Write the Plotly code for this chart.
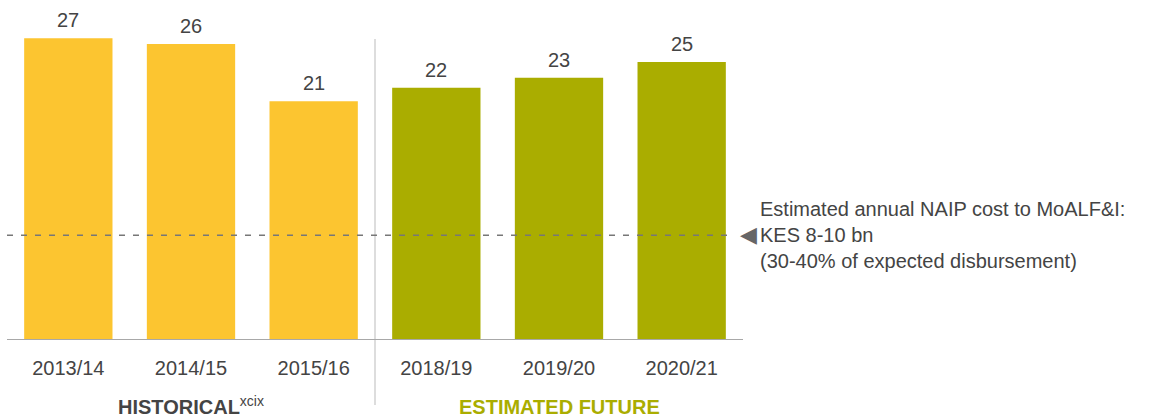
import plotly.graph_objects as go

# Data
periods = ["2013/14", "2014/15", "2015/16", "2018/19", "2019/20", "2020/21"]
values = [26.8, 26.3, 21.2, 22.4, 23.3, 24.7]
value_labels = ["27", "26", "21", "22", "23", "25"]
groups = ["HISTORICAL", "HISTORICAL", "HISTORICAL", "ESTIMATED FUTURE", "ESTIMATED FUTURE", "ESTIMATED FUTURE"]
naip_cost_level = 9.3
annotation_lines = ["Estimated annual NAIP cost to MoALF&I:", "KES 8-10 bn", "(30-40% of expected disbursement)"]

YELLOW = "#FCC530"
GREEN = "#AAAD00"
TEXT = "#444444"
FONT = "Liberation Sans, Arial, sans-serif"

colors = [YELLOW if g == "HISTORICAL" else GREEN for g in groups]
xpos = list(range(len(periods)))

fig = go.Figure()
fig.add_trace(go.Bar(
    x=xpos, y=values, marker=dict(color=colors, line=dict(width=0)),
    width=0.72, hoverinfo="skip", showlegend=False,
))

annotations = []
for x, v, lab in zip(xpos, values, value_labels):
    annotations.append(dict(x=x, y=v, text=lab, showarrow=False, yanchor="bottom",
                            yshift=5, font=dict(size=20, color=TEXT, family=FONT)))

# Group labels
annotations.append(dict(x=1, y=0, yref="y", text="<b>HISTORICAL</b><sup>xcix</sup>", showarrow=False,
                        yanchor="middle", yshift=-65, font=dict(size=20, color=TEXT, family=FONT)))
annotations.append(dict(x=4, y=0, yref="y", text="<b>ESTIMATED FUTURE</b>", showarrow=False,
                        yanchor="middle", yshift=-67, font=dict(size=20, color=GREEN, family=FONT)))

# Arrow marker pointing at the dashed line
annotations.append(dict(x=1.0, xref="paper", xshift=-5, y=naip_cost_level, yref="y", yshift=1,
                        text="◀", showarrow=False, xanchor="left", yanchor="middle",
                        font=dict(size=22, color="#666666", family="DejaVu Sans")))

# Side annotation
annotations.append(dict(x=1.0, xref="paper", xshift=15, y=naip_cost_level, yref="y", yshift=0,
                        text="<br>".join(annotation_lines), showarrow=False, xanchor="left",
                        yanchor="middle", align="left",
                        font=dict(size=20, color=TEXT, family=FONT)))

shapes = [
    # axis baseline
    dict(type="line", xref="x", yref="y", x0=-0.5, x1=5.5, y0=0, y1=0,
         line=dict(color="#A8A8A8", width=2)),
    # separator
    dict(type="line", xref="x", yref="paper", x0=2.5, x1=2.5, y0=-0.191, y1=0.885,
         line=dict(color="#DDDDDD", width=2), layer="below"),
    # dashed cost line
    dict(type="line", xref="x", yref="y", x0=-0.5, x1=5.43, y0=naip_cost_level, y1=naip_cost_level,
         line=dict(color="#777777", width=1.5, dash="6px,8px"), layer="above"),
]

fig.update_layout(
    width=1154, height=418,
    margin=dict(l=7, r=411, t=0, b=78),
    paper_bgcolor="white", plot_bgcolor="white",
    xaxis=dict(range=[-0.5, 5.5], tickmode="array", tickvals=xpos, ticktext=periods,
               showgrid=False, zeroline=False, showline=False, ticks="",
               ticklabelstandoff=14,
               tickfont=dict(size=20, color=TEXT, family=FONT)),
    yaxis=dict(range=[0, 30.2], visible=False, showgrid=False, zeroline=False),
    annotations=annotations, shapes=shapes,
    font=dict(family=FONT),
)

fig.write_html("out.html")
